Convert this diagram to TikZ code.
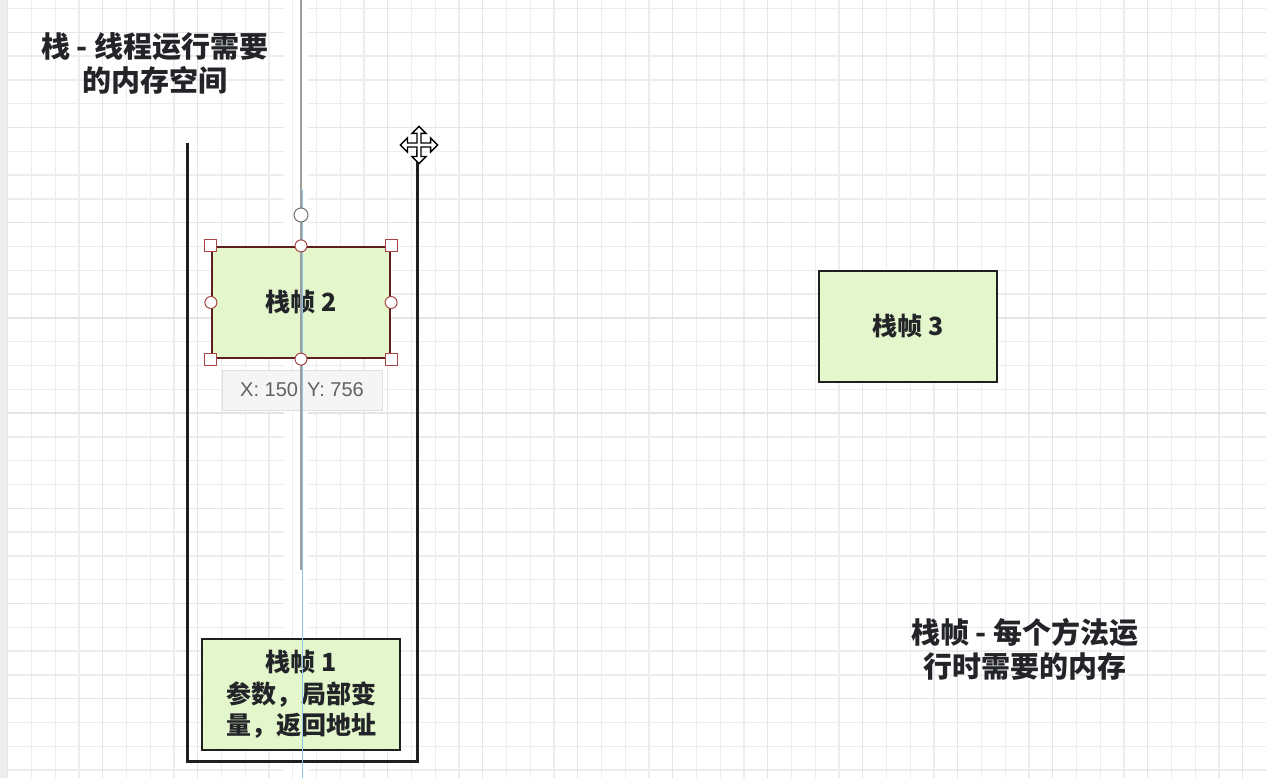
\documentclass[tikz,border=0pt]{standalone}
\usepackage{fontspec}
\setmainfont{Noto Sans CJK SC}
\newfontfamily\tipfont{Liberation Sans}
\usepackage{xcolor}
\usetikzlibrary{positioning}

\definecolor{framegreen}{RGB}{228,246,203}
\definecolor{textdark}{RGB}{34,36,40}
\definecolor{selbrown}{RGB}{92,30,30}
\definecolor{handlered}{RGB}{168,70,70}
\definecolor{guideblue}{RGB}{140,200,236}

\begin{document}
\begin{tikzpicture}[x=1pt, y=-1pt,
    minor/.style={draw=black!7, line width=1.3pt},
    major/.style={draw=black!10, line width=1.4pt},
    frame/.style={draw=black!88, line width=2.2pt, fill=framegreen, minimum width=178pt, minimum height=111pt,
        align=center, text=textdark, font=\bfseries\fontsize{25}{31.5}\selectfont},
    note/.style={align=center, text=textdark, font=\bfseries\fontsize{29}{34}\selectfont},
    cornerhandle/.style={draw=handlered, fill=white, line width=1pt, minimum size=12pt, inner sep=0pt},
    sidehandle/.style={circle, draw=handlered, fill=white, line width=1pt, minimum size=12pt, inner sep=0pt}]
    \useasboundingbox (0,0) rectangle (1266,778);
    \fill[white] (0,0) rectangle (1266,778);
    \fill[black!7] (0,0) rectangle (7,778);

    \foreach \i in {0,...,53}
        \draw[minor] ({7.7+23.75*\i},0) -- ({7.7+23.75*\i},778);
    \foreach \i in {0,...,32}
        \draw[minor] (7,{8.5+23.8*\i}) -- (1266,{8.5+23.8*\i});
    \foreach \i in {0,...,13}
        \draw[major] ({7.7+95*\i},0) -- ({7.7+95*\i},778);
    \foreach \i in {0,...,7}
        \draw[major] (7,{32.3+95.2*\i}) -- (1266,{32.3+95.2*\i});
    \fill[white] (284,0) rectangle (308,778);
    \draw[minor] (292.7,0) -- (292.7,778);

    \draw[line width=3pt, black!88] (187,143) -- (187,761) -- (417,761) -- (417,150);

    \node[note] (stacknote) at (155,63) {栈 - 线程运行需要\\的内存空间};
    \node[note] (framenote) at (1025,649) {栈帧 - 每个方法运\\行时需要的内存};

    \node[frame, draw=selbrown] (frame2) at (301,302.5) {栈帧 2};
    \node[frame] (frame3) at (908,326.5) {栈帧 3};
    \node[frame, minimum width=198pt] (frame1) at (301,694.5) {栈帧 1\\参数，局部变\\量，返回地址};

    \node[draw=black!12, fill=black!4, minimum width=160pt, minimum height=40pt, text=black!62,
        font=\tipfont\fontsize{20}{22}\selectfont] (tip) at (302,390) {X: 150\hspace{9pt}Y: 756};

    \draw[black!38, line width=1.6pt] (300.8,0) -- (300.8,570);
    \draw[guideblue, line width=1pt] (302,190) -- (302,778);

    \foreach \a [count=\i] in {north west, north east, south west, south east}
        \node[cornerhandle] (hc\i) at (frame2.\a) {};
    \foreach \a [count=\i] in {north, south, west, east}
        \node[sidehandle] (hs\i) at (frame2.\a) {};
    \node[circle, draw=black!55, fill=white, line width=1pt, minimum size=14pt, inner sep=0pt] (rot) at (301,215) {};

    \begin{scope}[shift={(419,145)}, scale=1.1]
        \draw[fill=white, draw=black, line width=1.4pt, line join=miter]
            (0,-17) -- (6.5,-10.5) -- (1.8,-10.5) -- (1.8,-1.8) -- (10.5,-1.8) -- (10.5,-6.5) -- (17,0)
            -- (10.5,6.5) -- (10.5,1.8) -- (1.8,1.8) -- (1.8,10.5) -- (6.5,10.5) -- (0,17)
            -- (-6.5,10.5) -- (-1.8,10.5) -- (-1.8,1.8) -- (-10.5,1.8) -- (-10.5,6.5) -- (-17,0)
            -- (-10.5,-6.5) -- (-10.5,-1.8) -- (-1.8,-1.8) -- (-1.8,-10.5) -- (-6.5,-10.5) -- cycle;
    \end{scope}
\end{tikzpicture}
\end{document}
